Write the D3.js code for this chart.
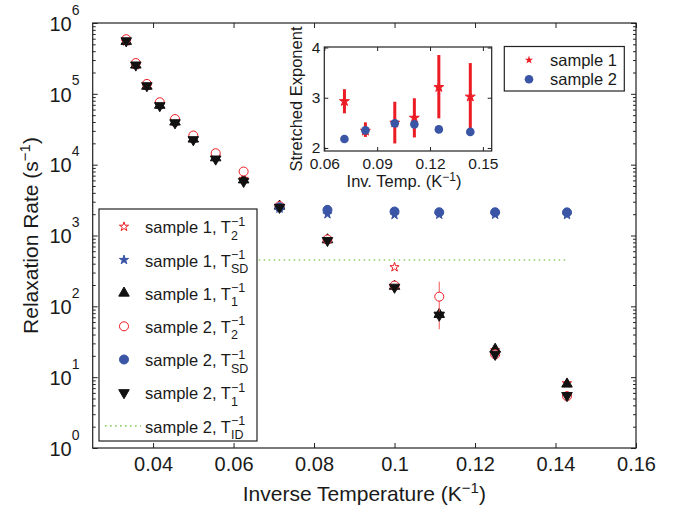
<!DOCTYPE html>
<meta charset="utf-8">
<style>
    body { margin: 0; background: #fff; }
    text {
        font-family: "Liberation Sans", Arial, Helvetica, sans-serif;
        fill: #1a1a1a;
    }
    .axis path.domain { display: none; }
    .axis .tick line { stroke: #222; stroke-width: 1; }
    .main-ticks text { font-size: 20px; }
    .inset-ticks text { font-size: 15.5px; }
    .frame { fill: none; stroke: #222; stroke-width: 1.2; }
</style>
<body>
    <svg width="684" height="511"></svg>
</body>
<script src="https://d3js.org/d3.v7.min.js"></script>
<script>

    // ---- data ----
    var invT = [1/30, 1/28, 1/26, 1/24, 1/22, 1/20, 1/18, 1/16, 1/14, 1/12, 1/10, 1/9, 1/8, 1/7];
    var s1T2 = [5.5e5, 2.55e5, 1.3e5, 7.0e4, 4.0e4, 2.35e4, 1.3e4, 6.3e3, 2.6e3, 880, 357, 78, 24, 8.2];
    var s1T1 = [5.5e5, 2.55e5, 1.28e5, 6.9e4, 4.0e4, 2.3e4, 1.25e4, 6.1e3, 2.6e3, 870, 192, 77, 24.8, 8.0];
    var s2T2 = [5.9e5, 2.72e5, 1.38e5, 7.6e4, 4.4e4, 2.58e4, 1.45e4, 8.0e3, 2.6e3, 880, 196, 137, 21, 5.4];
    var s2T1 = [5.6e5, 2.55e5, 1.3e5, 6.8e4, 3.9e4, 2.25e4, 1.2e4, 5.8e3, 2.5e3, 850, 186, 75, 21, 5.5];

    var invSD = [1/14, 1/12, 1/10, 1/9, 1/8, 1/7];
    var s1SD = [2.4e3, 2.0e3, 1.95e3, 1.97e3, 1.97e3, 1.95e3];
    var s2SD = [2.5e3, 2.3e3, 2.18e3, 2.13e3, 2.13e3, 2.12e3];

    var errX = [1/9], errLo = [47.5], errHi = [223];      // sample 2, T2 error bar

    var idX = [1/16, 1/7], idY = [450, 450];               // sample 2, T_ID (dotted)

    var xTicks = [0.04, 0.06, 0.08, 0.1, 0.12, 0.14, 0.16];
    var xTickLabels = ["0.04", "0.06", "0.08", "0.1", "0.12", "0.14", "0.16"];
    var yDecades = [1, 10, 100, 1e3, 1e4, 1e5, 1e6];
    var yExponents = ["0", "1", "2", "3", "4", "5", "6"];

    // inset: stretched exponent
    var inX = [1/14, 1/12, 1/10, 1/9, 1/8, 1/7];
    var in1 = [2.93, 2.34, 2.5, 2.6, 3.21, 3.02];
    var in1Lo = [2.69, 2.22, 2.09, 2.21, 2.59, 2.27];
    var in1Hi = [3.17, 2.51, 2.92, 2.99, 3.85, 3.69];
    var in2 = [2.18, 2.35, 2.49, 2.47, 2.37, 2.32];
    var inXTicks = [0.06, 0.09, 0.12, 0.15];
    var inXTickLabels = ["0.06", "0.09", "0.12", "0.15"];
    var inYTicks = [2, 3, 4];

    var legendNames = ["sample 1, T", "sample 1, T", "sample 1, T", "sample 2, T", "sample 2, T", "sample 2, T", "sample 2, T"];
    var legendSubs = ["2", "SD", "1", "2", "SD", "1", "ID"];

    var RED = "#ec1c24", BLUE = "#3a55a5", BLACK = "#111", GREEN = "#8fd46a";

    var svg = d3.select("svg");

    // ---- main axes ----
    var L = 92.7, R = 636, T = 23, B = 448;
    var x = d3.scaleLinear().domain([0.025, 0.16]).range([L, R]);
    var y = d3.scaleLog().domain([1, 1e6]).range([B, T]);
    var yMinor = y.ticks().filter(function (v) { return yDecades.indexOf(v) < 0; });

    var gAx = svg.append("g").attr("class", "axis main-ticks");
    gAx.append("g").attr("transform", "translate(0," + B + ")")
        .call(d3.axisBottom(x).tickValues(xTicks).tickSize(-5).tickSizeOuter(0).tickPadding(9)
            .tickFormat(function (d, i) { return xTickLabels[i]; }));
    gAx.append("g").attr("transform", "translate(0," + T + ")")
        .call(d3.axisTop(x).tickValues(xTicks).tickSize(-5).tickSizeOuter(0).tickFormat(""));
    var yl = gAx.append("g").attr("transform", "translate(" + L + ",0)")
        .call(d3.axisLeft(y).tickValues(yDecades).tickSize(-5).tickSizeOuter(0).tickFormat(""));
    gAx.append("g").attr("transform", "translate(" + L + ",0)")
        .call(d3.axisLeft(y).tickValues(yMinor).tickSize(-3).tickSizeOuter(0).tickFormat(""));
    gAx.append("g").attr("transform", "translate(" + R + ",0)")
        .call(d3.axisRight(y).tickValues(yDecades).tickSize(-5).tickSizeOuter(0).tickFormat(""));
    gAx.append("g").attr("transform", "translate(" + R + ",0)")
        .call(d3.axisRight(y).tickValues(yMinor).tickSize(-3).tickSizeOuter(0).tickFormat(""));

    // 10^n labels
    yl.selectAll(".tick").each(function (d, i) {
        var t = d3.select(this);
        t.append("text").attr("x", -21).attr("dy", "0.36em").style("text-anchor", "end").text("10");
        t.append("text").attr("x", -21).attr("y", -9).style("text-anchor", "start")
            .style("font-size", "14px").text(yExponents[i]);
    });

    svg.append("rect").attr("class", "frame")
        .attr("x", L).attr("y", T).attr("width", R - L).attr("height", B - T);

    // axis titles
    var xt = svg.append("text").attr("x", (L + R) / 2).attr("y", 501)
        .style("text-anchor", "middle").style("font-size", "21px");
    xt.append("tspan").text("Inverse Temperature (K");
    xt.append("tspan").attr("dy", -8).style("font-size", "15px").text("\u22121");
    xt.append("tspan").attr("dy", 8).text(")");

    var yt = svg.append("text").attr("transform", "translate(38," + ((T + B) / 2) + ") rotate(-90)")
        .style("text-anchor", "middle").style("font-size", "21px");
    yt.append("tspan").text("Relaxation Rate (s");
    yt.append("tspan").attr("dy", -8).style("font-size", "15px").text("\u22121");
    yt.append("tspan").attr("dy", 8).text(")");

    // ---- markers ----
    var sym = {
        star: d3.symbol().type(d3.symbolStar).size(26)(),
        tri: d3.symbol().type(d3.symbolTriangle).size(48)(),
        circle: d3.symbol().type(d3.symbolCircle).size(64)()
    };
    function drawMarker(g, kind, fill, stroke, down) {
        g.append("path").attr("d", sym[kind])
            .attr("transform", down ? "rotate(180)" : null)
            .attr("fill", fill).attr("stroke", stroke).attr("stroke-width", 1);
    }
    function drawSeries(xs, ys, kind, fill, stroke, down) {
        var g = svg.append("g");
        xs.forEach(function (xv, i) {
            var p = g.append("g").attr("transform", "translate(" + x(xv) + "," + y(ys[i]) + ")");
            drawMarker(p, kind, fill, stroke, down);
        });
    }

    drawSeries(invT, s1T2, "star", "none", RED, false);
    drawSeries(invSD, s1SD, "star", BLUE, BLUE, false);
    drawSeries(invT, s1T1, "tri", BLACK, BLACK, false);
    svg.append("g").selectAll("line").data(errX).enter().append("line")
        .attr("x1", function (d) { return x(d); }).attr("x2", function (d) { return x(d); })
        .attr("y1", function (d, i) { return y(errLo[i]); })
        .attr("y2", function (d, i) { return y(errHi[i]); })
        .attr("stroke", "#ef5a5a").attr("stroke-width", 1);
    drawSeries(invT, s2T2, "circle", "#fff", RED, false);
    drawSeries(invSD, s2SD, "circle", BLUE, BLUE, false);
    drawSeries(invT, s2T1, "tri", BLACK, BLACK, true);

    svg.append("path")
        .attr("d", d3.line().x(function (d) { return x(d); }).y(function (d, i) { return y(idY[i]); })(idX))
        .attr("fill", "none").attr("stroke", GREEN).attr("stroke-width", 1.6)
        .attr("stroke-dasharray", "1.6,3.4");

    // ---- main legend ----
    var leg = svg.append("g");
    leg.append("rect").attr("x", 99).attr("y", 209).attr("width", 158).attr("height", 232)
        .attr("fill", "#fff").attr("stroke", "#222").attr("stroke-width", 1.2);
    var legKinds = [["star", "none", RED, false], ["star", BLUE, BLUE, false], ["tri", BLACK, BLACK, false],
        ["circle", "#fff", RED, false], ["circle", BLUE, BLUE, false], ["tri", BLACK, BLACK, true]];
    legendNames.forEach(function (name, i) {
        var cy = 226.7 + i * 33.2;
        var row = leg.append("g");
        if (i < 6) {
            var k = legKinds[i];
            drawMarker(row.append("g").attr("transform", "translate(124," + cy + ")"), k[0], k[1], k[2], k[3]);
        } else {
            row.append("line").attr("x1", 105).attr("x2", 141).attr("y1", cy).attr("y2", cy)
                .attr("stroke", GREEN).attr("stroke-width", 1.6).attr("stroke-dasharray", "1.6,3.4");
        }
        var t = row.append("text").attr("x", 145).attr("y", cy + 6.6).style("font-size", "16.5px").text(name);
        var w = t.node().getComputedTextLength();
        row.append("text").attr("x", 145 + w).attr("y", cy - 1).style("font-size", "12.5px").text("\u22121");
        row.append("text").attr("x", 145 + w).attr("y", cy + 13).style("font-size", "12.5px").text(legendSubs[i]);
    });

    // ---- inset ----
    var iL = 324.3, iR = 491.7, iT = 47, iB = 151;
    var ix = d3.scaleLinear().domain([0.06, 0.155]).range([iL, iR]);
    var iy = d3.scaleLinear().domain([1.94, 4.01]).range([iB, iT]);

    svg.append("rect").attr("x", iL).attr("y", iT).attr("width", iR - iL).attr("height", iB - iT).attr("fill", "#fff");
    var gi = svg.append("g").attr("class", "axis inset-ticks");
    gi.append("g").attr("transform", "translate(0," + iB + ")")
        .call(d3.axisBottom(ix).tickValues(inXTicks).tickSize(-4).tickSizeOuter(0).tickPadding(7)
            .tickFormat(function (d, i) { return inXTickLabels[i]; }));
    gi.append("g").attr("transform", "translate(0," + iT + ")")
        .call(d3.axisTop(ix).tickValues(inXTicks).tickSize(-4).tickSizeOuter(0).tickFormat(""));
    gi.append("g").attr("transform", "translate(" + iL + ",0)")
        .call(d3.axisLeft(iy).tickValues(inYTicks).tickSize(-4).tickSizeOuter(0).tickPadding(4).tickFormat(d3.format("d")));
    gi.append("g").attr("transform", "translate(" + iR + ",0)")
        .call(d3.axisRight(iy).tickValues(inYTicks).tickSize(-4).tickSizeOuter(0).tickFormat(""));
    svg.append("rect").attr("class", "frame")
        .attr("x", iL).attr("y", iT).attr("width", iR - iL).attr("height", iB - iT);

    var ixt = svg.append("text").attr("x", (iL + iR) / 2 - 4).attr("y", 187)
        .style("text-anchor", "middle").style("font-size", "16.5px");
    ixt.append("tspan").text("Inv. Temp. (K");
    ixt.append("tspan").attr("dy", -6).style("font-size", "12px").text("\u22121");
    ixt.append("tspan").attr("dy", 6).text(")");
    svg.append("text").attr("transform", "translate(302," + ((iT + iB) / 2) + ") rotate(-90)")
        .style("text-anchor", "middle").style("font-size", "16.5px").text("Stretched Exponent");

    var gin = svg.append("g");
    gin.selectAll("line").data(inX).enter().append("line")
        .attr("x1", function (d) { return ix(d); }).attr("x2", function (d) { return ix(d); })
        .attr("y1", function (d, i) { return iy(in1Lo[i]); })
        .attr("y2", function (d, i) { return iy(in1Hi[i]); })
        .attr("stroke", RED).attr("stroke-width", 3);
    var starBig = d3.symbol().type(d3.symbolStar).size(30)();
    gin.selectAll(".st").data(inX).enter().append("path").attr("class", "st")
        .attr("d", starBig)
        .attr("transform", function (d, i) { return "translate(" + ix(d) + "," + iy(in1[i]) + ")"; })
        .attr("fill", RED).attr("stroke", RED);
    gin.selectAll("circle").data(inX).enter().append("circle")
        .attr("cx", function (d) { return ix(d); })
        .attr("cy", function (d, i) { return iy(in2[i]); })
        .attr("r", 4.3).attr("fill", BLUE);

    // inset legend
    var il = svg.append("g");
    il.append("rect").attr("x", 504.3).attr("y", 46.5).attr("width", 120).attr("height", 44.5)
        .attr("fill", "#fff").attr("stroke", "#222").attr("stroke-width", 1.2);
    il.append("path").attr("d", d3.symbol().type(d3.symbolStar).size(22)())
        .attr("transform", "translate(529,60)").attr("fill", RED);
    il.append("circle").attr("cx", 529).attr("cy", 79.3).attr("r", 4.3).attr("fill", BLUE);
    il.append("text").attr("x", 550).attr("y", 66).style("font-size", "16.5px").text("sample 1");
    il.append("text").attr("x", 550).attr("y", 85.3).style("font-size", "16.5px").text("sample 2");

</script>
